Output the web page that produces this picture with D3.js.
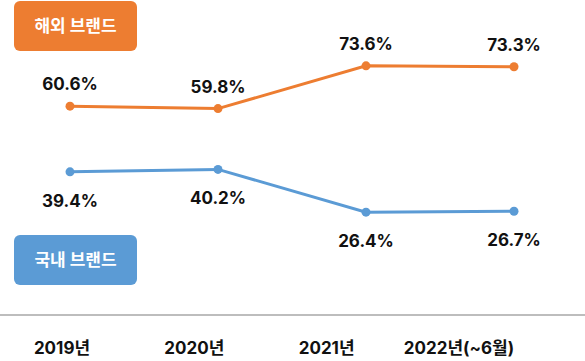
<!DOCTYPE html>
<html>
<head>
<meta charset="utf-8">
<script src="https://cdn.jsdelivr.net/npm/d3@7"></script>
<style>
  body { margin: 0; background: #fff; }
  svg text { font-family: Inter, "Noto Sans CJK KR", sans-serif; }
</style>
</head>
<body>
<div id="chart"></div>
<script>
const w = 585;
const h = 361;

// data
const years = ["2019", "2020", "2021", "2022"];
const yearLabels = ["2019년", "2020년", "2021년", "2022년(~6월)"];
const overseas = [60.6, 59.8, 73.6, 73.3];
const domestic = [39.4, 40.2, 26.4, 26.7];
const seriesNames = ["해외 브랜드", "국내 브랜드"];

const orange = "#ED7D31";
const blue = "#5B9BD5";

const svg = d3.select("#chart").append("svg")
    .attr("width", w)
    .attr("height", h);

const x = d3.scalePoint().domain(years).range([70, 514]);
const xLabel = d3.scalePoint().domain(yearLabels).range([62, 459]);
const y = d3.scaleLinear().domain([20, 80]).range([232, 46]);

// baseline
svg.append("line")
    .attr("x1", 0).attr("x2", w)
    .attr("y1", 315).attr("y2", 315)
    .attr("stroke", "#bdbdbd")
    .attr("stroke-width", 2);

svg.selectAll(".xlabel")
    .data(yearLabels)
    .enter()
    .append("text")
    .attr("class", "xlabel")
    .attr("x", d => xLabel(d))
    .attr("y", 354)
    .attr("text-anchor", "middle")
    .attr("font-size", 17)
    .attr("font-weight", 700)
    .attr("fill", "#111")
    .text(d => d);

const line = d3.line()
    .x((d, i) => x(years[i]))
    .y(d => y(d));

const series = [
    { values: overseas, color: orange, dy: -16 },
    { values: domestic, color: blue, dy: 35 }
];

series.forEach(s => {
    svg.append("path")
        .datum(s.values)
        .attr("d", line)
        .attr("fill", "none")
        .attr("stroke", s.color)
        .attr("stroke-width", 3);

    svg.selectAll(null)
        .data(s.values)
        .enter()
        .append("circle")
        .attr("cx", (d, i) => x(years[i]))
        .attr("cy", d => y(d))
        .attr("r", 4.5)
        .attr("fill", s.color);

    svg.selectAll(null)
        .data(s.values)
        .enter()
        .append("text")
        .attr("x", (d, i) => x(years[i]))
        .attr("y", d => y(d) + s.dy)
        .attr("text-anchor", "middle")
        .attr("font-size", 17)
        .attr("font-weight", 700)
        .attr("fill", "#111")
        .text(d => d.toFixed(1) + "%");
});

// legend boxes
const legend = [
    { name: seriesNames[0], color: orange, y: 1 },
    { name: seriesNames[1], color: blue, y: 235 }
];
legend.forEach(l => {
    svg.append("rect")
        .attr("x", 14).attr("y", l.y)
        .attr("width", 123).attr("height", 50)
        .attr("rx", 6)
        .attr("fill", l.color);
    svg.append("text")
        .attr("x", 75.5).attr("y", l.y + 25)
        .attr("dy", "0.35em")
        .attr("text-anchor", "middle")
        .attr("font-size", 17)
        .attr("font-weight", 700)
        .attr("fill", "#fff")
        .text(l.name);
});
</script>
</body>
</html>
